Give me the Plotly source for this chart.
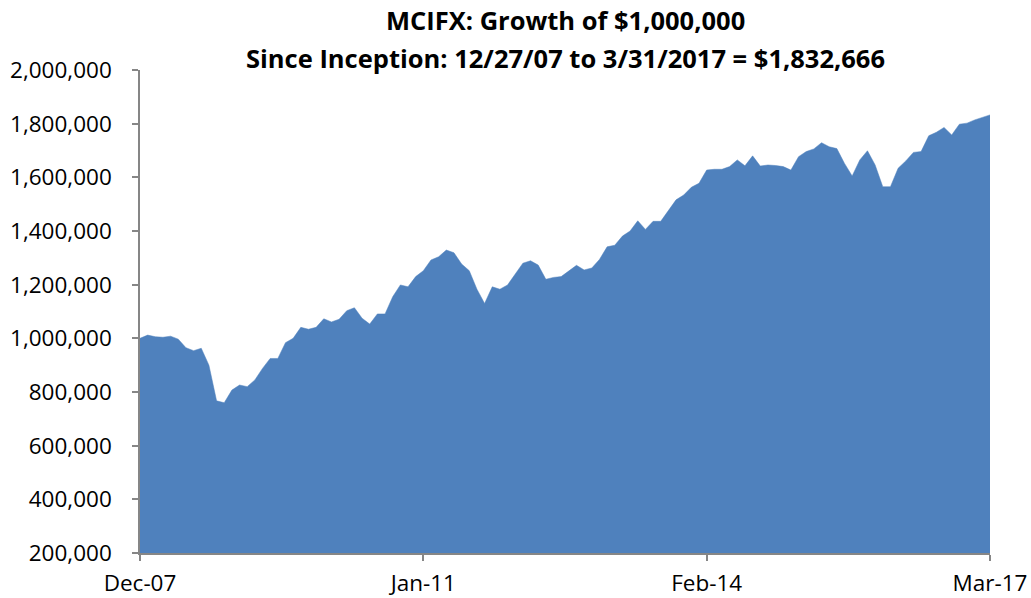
import pandas as pd
import plotly.graph_objects as go

months = [d.strftime("%b-%y") for d in pd.date_range("2007-12-01", "2017-03-01", freq="MS")]

values = [
    1000000, 1012000, 1006000, 1004000, 1008000, 997000, 965000, 954000, 963000, 900000,
    767000, 760000, 807000, 826000, 820000, 845000, 888000, 925000, 925000, 984000,
    1000000, 1041000, 1034000, 1041000, 1073000, 1061000, 1071000, 1103000, 1114000, 1075000,
    1053000, 1091000, 1091000, 1155000, 1199000, 1192000, 1230000, 1252000, 1292000, 1304000,
    1329000, 1319000, 1277000, 1252000, 1183000, 1130000, 1192000, 1183000, 1199000, 1240000,
    1280000, 1289000, 1273000, 1220000, 1227000, 1230000, 1252000, 1272000, 1255000, 1262000,
    1294000, 1341000, 1347000, 1381000, 1400000, 1438000, 1406000, 1436000, 1436000, 1478000,
    1516000, 1534000, 1563000, 1578000, 1627000, 1630000, 1630000, 1640000, 1665000, 1643000,
    1680000, 1642000, 1646000, 1644000, 1640000, 1627000, 1677000, 1696000, 1706000, 1729000,
    1714000, 1707000, 1652000, 1605000, 1665000, 1699000, 1646000, 1565000, 1565000, 1634000,
    1661000, 1693000, 1696000, 1755000, 1768000, 1786000, 1758000, 1798000, 1802000, 1814000,
    1824000, 1832666,
]

x_ticks = ["Dec-07", "Jan-11", "Feb-14", "Mar-17"]
y_ticks = [200000, 400000, 600000, 800000, 1000000, 1200000, 1400000, 1600000, 1800000, 2000000]

title_lines = ["MCIFX: Growth of $1,000,000",
               "Since Inception: 12/27/07 to 3/31/2017 = $1,832,666"]

FONT = "Open Sans, Noto Sans, sans-serif"

fig = go.Figure()
fig.add_trace(go.Scatter(
    x=months, y=values, mode="lines", fill="tozeroy",
    line=dict(color="#4F81BD", width=0.5), fillcolor="#4F81BD",
    hoverinfo="x+y",
))

fig.update_layout(
    width=1031, height=598,
    margin=dict(l=140, r=41, t=70, b=45),
    paper_bgcolor="white", plot_bgcolor="white",
    showlegend=False,
    font=dict(family=FONT, size=22.5, color="black"),
)
fig.add_annotation(text="<b>" + title_lines[0] + "</b>", xref="paper", yref="paper",
                   x=0.5, y=(553 - 20) / 483, yanchor="middle", showarrow=False,
                   font=dict(family=FONT, size=25.5))
fig.add_annotation(text="<b>" + title_lines[1] + "</b>", xref="paper", yref="paper",
                   x=0.5, y=(553 - 58) / 483, yanchor="middle", showarrow=False,
                   font=dict(family=FONT, size=25.5))

fig.update_xaxes(
    type="category", range=[0, len(months) - 1],
    tickmode="array", tickvals=x_ticks, ticktext=x_ticks,
    showline=True, linecolor="#868686", linewidth=1.5,
    ticks="outside", ticklen=6, tickcolor="#868686", tickwidth=1.5,
    showgrid=False, zeroline=False, ticklabelstandoff=3, automargin=False,
)
fig.update_yaxes(
    range=[200000, 2000000], tickmode="array", tickvals=y_ticks,
    tickformat=",d",
    showline=True, linecolor="#868686", linewidth=1.5,
    ticks="outside", ticklen=6, tickcolor="#868686", tickwidth=1.5,
    showgrid=False, zeroline=False, ticklabelstandoff=16, automargin=False,
)

fig.write_html("out.html")
